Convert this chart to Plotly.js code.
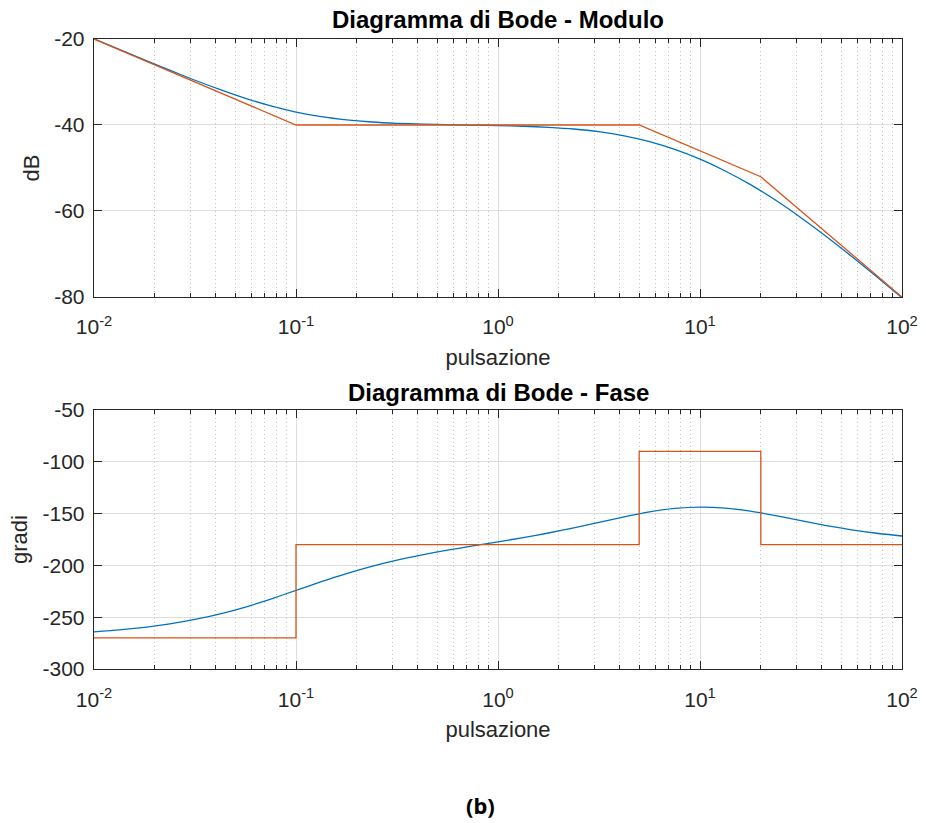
<!DOCTYPE html>
<html>
<head>
<meta charset="utf-8">
<script src="https://cdn.plot.ly/plotly-3.0.1.min.js"></script>
<style>html,body{margin:0;padding:0;background:#fff;}#chart{width:926px;height:823px;}</style>
</head>
<body>
<div id="chart"></div>
<script>
// Frequency samples (rad/s)
const pulsazione = [0.01, 0.013335, 0.017783, 0.023714, 0.031623, 0.04217, 0.056234, 0.074989,
  0.1, 0.13335, 0.17783, 0.23714, 0.31623, 0.4217, 0.56234, 0.74989,
  1, 1.3335, 1.7783, 2.3714, 3.1623, 4.217, 5.6234, 7.4989,
  10, 13.335, 17.783, 23.714, 31.623, 42.17, 56.234, 74.989, 100];
// Magnitude (dB) of the exact response
const moduloDB = [-19.96, -22.42, -24.86, -27.26, -29.59, -31.79, -33.81, -35.56,
  -36.99, -38.07, -38.81, -39.30, -39.60, -39.79, -39.92, -40.03,
  -40.14, -40.29, -40.54, -40.93, -41.56, -42.52, -43.88, -45.69,
  -47.96, -50.69, -53.88, -57.52, -61.57, -65.94, -70.55, -75.32, -80.18];
// Phase (degrees) of the exact response
const faseGradi = [-264.20, -262.29, -259.76, -256.46, -252.18, -246.77, -240.16, -232.49,
  -224.14, -215.72, -207.83, -200.83, -194.83, -189.73, -185.28, -181.21,
  -177.26, -173.17, -168.72, -163.80, -158.48, -153.12, -148.37, -145.01,
  -143.70, -144.68, -147.67, -152.00, -156.85, -161.52, -165.61, -168.96, -171.61];
// Asymptotic approximation (break points)
const asintotiW = [0.01, 0.1, 5, 20, 100];
const asintotiModulo = [-20, -40, -40, -52.04, -80];
const asintotiFase = [-270, -180, -90, -180, -180];
// Tick labels
const xTickVals = [0.01, 0.1, 1, 10, 100];
const xTickText = ['10<sup>-2</sup>', '10<sup>-1</sup>', '10<sup>0</sup>', '10<sup>1</sup>', '10<sup>2</sup>'];
const yModTickVals = [-80, -60, -40, -20];
const yModTickText = ['-80', '-60', '-40', '-20'];
const yFaseTickVals = [-300, -250, -200, -150, -100, -50];
const yFaseTickText = ['-300', '-250', '-200', '-150', '-100', '-50'];

const BLUE = '#0072BD', ORANGE = '#D95319', AX = '#262626';
const FONT = 'Liberation Sans, Arial, Helvetica, sans-serif';

const traces = [
  {x: pulsazione, y: moduloDB, xaxis: 'x', yaxis: 'y', mode: 'lines',
   line: {color: BLUE, width: 1.3, shape: 'spline', smoothing: 0.6}, name: 'Modulo'},
  {x: asintotiW, y: asintotiModulo, xaxis: 'x', yaxis: 'y', mode: 'lines',
   line: {color: ORANGE, width: 1.3}, name: 'Asintoti modulo'},
  {x: pulsazione, y: faseGradi, xaxis: 'x2', yaxis: 'y2', mode: 'lines',
   line: {color: BLUE, width: 1.3, shape: 'spline', smoothing: 0.6}, name: 'Fase'},
  {x: asintotiW, y: asintotiFase, xaxis: 'x2', yaxis: 'y2', mode: 'lines',
   line: {color: ORANGE, width: 1.3, shape: 'hv'}, name: 'Asintoti fase'}
];

function xAxis(anchor) {
  return {
    type: 'log', range: [-2, 2], anchor: anchor, domain: [0, 1],
    tickmode: 'array', tickvals: xTickVals, ticktext: xTickText,
    ticks: 'inside', ticklen: 8, tickwidth: 1, tickcolor: AX,
    showline: true, linecolor: AX, linewidth: 1.3, mirror: 'ticks',
    showgrid: true, gridcolor: '#dedede', gridwidth: 1, zeroline: false,
    tickfont: {family: FONT, size: 21, color: AX}, ticklabelstandoff: 11,
    minor: {dtick: 'D1', ticks: 'inside', ticklen: 4, tickwidth: 1, tickcolor: AX,
            showgrid: true, gridcolor: '#bfbfbf', griddash: '1px,3px', gridwidth: 1},
    title: {text: 'pulsazione', font: {family: FONT, size: 22, color: AX}, standoff: 12}
  };
}
function yAxis(anchor, domain, range, vals, text, title) {
  return {
    anchor: anchor, domain: domain, range: range,
    tickmode: 'array', tickvals: vals, ticktext: text,
    ticks: 'inside', ticklen: 8, tickwidth: 1, tickcolor: AX,
    showline: true, linecolor: AX, linewidth: 1.3, mirror: 'ticks',
    showgrid: true, gridcolor: '#dedede', gridwidth: 1, zeroline: false,
    tickfont: {family: FONT, size: 21, color: AX}, ticklabelstandoff: 4,
    title: {text: title, font: {family: FONT, size: 22, color: AX}, standoff: 8}
  };
}

const layout = {
  width: 926, height: 823,
  margin: {l: 94, r: 24, t: 39, b: 154, pad: 0},
  paper_bgcolor: '#ffffff', plot_bgcolor: '#ffffff',
  showlegend: false,
  font: {family: FONT, color: AX},
  xaxis: xAxis('y'),
  yaxis: yAxis('x', [0.5905, 1], [-80, -20], yModTickVals, yModTickText, 'dB'),
  xaxis2: xAxis('y2'),
  yaxis2: yAxis('x2', [0, 0.4111], [-300, -50], yFaseTickVals, yFaseTickText, 'gradi'),
  annotations: [
    {text: '<b>Diagramma di Bode - Modulo</b>', xref: 'paper', yref: 'paper', x: 0.5, y: 1.0302,
     xanchor: 'center', yanchor: 'middle', showarrow: false, font: {family: FONT, size: 24, color: '#000'}},
    {text: '<b>Diagramma di Bode - Fase</b>', xref: 'paper', yref: 'paper', x: 0.5, y: 0.4381,
     xanchor: 'center', yanchor: 'middle', showarrow: false, font: {family: FONT, size: 24, color: '#000'}},
    {text: '<b>(b)</b>', xref: 'paper', yref: 'paper', x: (480 - 94) / 808, y: (669 - 805) / 630,
     xanchor: 'center', yanchor: 'middle', showarrow: false, font: {family: 'Noto Sans, Open Sans, sans-serif', size: 22, color: '#000'}}
  ]
};

Plotly.newPlot('chart', traces, layout, {staticPlot: true, displayModeBar: false});
</script>
</body>
</html>
